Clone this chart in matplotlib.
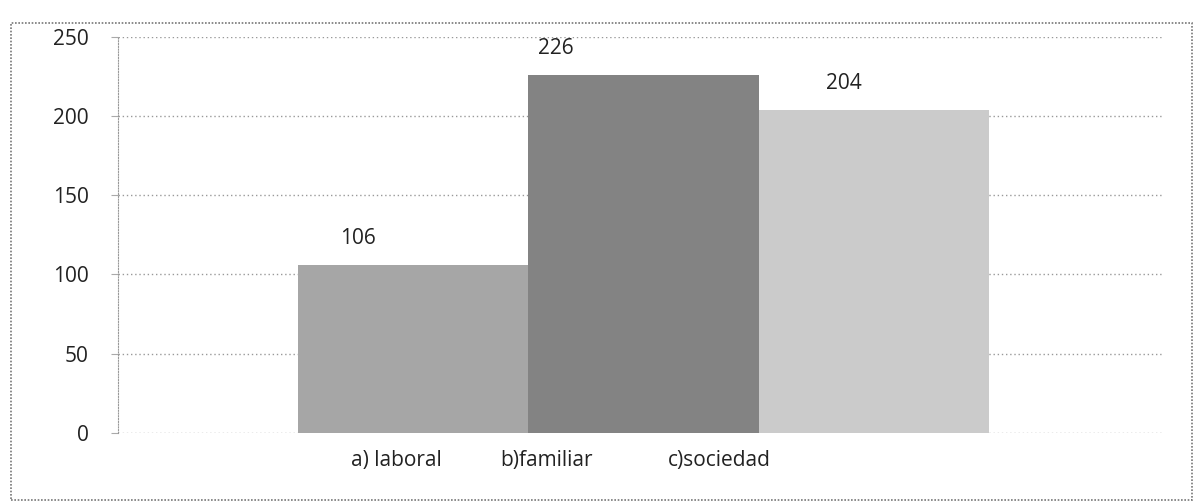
import matplotlib.pyplot as plt
from matplotlib.patches import Rectangle

categories = ["a) laboral", "b)familiar", "c)sociedad"]
values = [106, 226, 204]
bar_colors = ["#a6a6a6", "#838383", "#cbcbcb"]

plt.rcParams["font.family"] = ["Open Sans", "DejaVu Sans"]

fig = plt.figure(figsize=(12.03, 5.04), dpi=100)
ax = fig.add_axes([0.098, 0.141, 0.868, 0.786])

x = list(range(len(categories)))
bars = ax.bar(x, values, width=1.0, color=bar_colors, edgecolor="none", zorder=2)

# value labels sit a bit left of the bar centres, as in the scanned original
label_shift = [-0.24, -0.38, -0.13]
for b, v, s in zip(bars, values, label_shift):
    ax.text(b.get_x() + b.get_width() / 2 + s, v + 10, str(v),
            ha="center", va="bottom", fontsize=15, color="#222222")

ax.set_xlim(-1.28, 3.25)
ax.set_ylim(0, 250)
ax.set_yticks([0, 50, 100, 150, 200, 250])
tick_shift = [-0.07, -0.42, -0.67]
ax.set_xticks([i + s for i, s in zip(x, tick_shift)])
ax.set_xticklabels(categories)
ax.tick_params(axis="x", length=0, labelsize=15, pad=12, colors="#222222")
ax.tick_params(axis="y", length=5, labelsize=15, pad=16, colors="#222222",
               color="#aaaaaa")

ax.yaxis.grid(True, linestyle=(0, (1, 2)), color="#999999", linewidth=1, zorder=0)
for side in ["top", "right", "bottom"]:
    ax.spines[side].set_visible(False)
ax.spines["left"].set_linestyle((0, (1, 1.5)))
ax.spines["left"].set_color("#999999")

# dotted outer frame of the chart area
fig.patches.append(Rectangle((0.009, 0.008), 0.982, 0.946, transform=fig.transFigure,
                             fill=False, linestyle=(0, (1, 1)), edgecolor="#777777",
                             linewidth=1.2))

fig.savefig("out.png", dpi=100)
